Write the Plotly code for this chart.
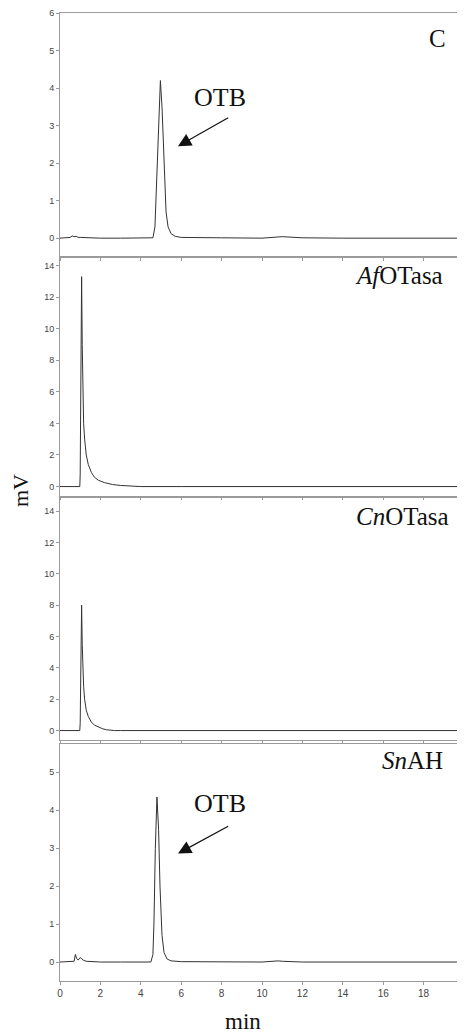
import plotly.graph_objects as go

# ---- data ----
ctrl_x = [0, 0.3, 0.5, 0.6, 0.7, 0.8, 0.9, 1.0, 1.5, 2, 3, 4, 4.6, 4.7, 4.8, 4.9, 4.97, 5.05, 5.15, 5.25, 5.35, 5.5, 5.7, 6, 8, 10, 11, 11.3, 12, 14, 16, 18, 20]
ctrl_y = [0, 0, 0.02, 0.06, 0.04, 0.05, 0.02, 0.02, 0.01, 0, 0, 0, 0.01, 0.3, 1.8, 3.6, 4.2, 3.5, 1.9, 0.7, 0.3, 0.12, 0.05, 0.02, 0.01, 0.0, 0.04, 0.03, 0.01, 0, 0, 0, 0]

af_x = [0, 0.5, 0.98, 1.0, 1.04, 1.07, 1.1, 1.13, 1.17, 1.22, 1.3, 1.4, 1.55, 1.7, 1.9, 2.2, 2.6, 3.0, 3.5, 4, 6, 8, 10, 12, 14, 16, 18, 20]
af_y = [0, 0, 0, 0.8, 7, 13.3, 9, 5.5, 4, 3, 2, 1.4, 0.9, 0.6, 0.4, 0.25, 0.13, 0.07, 0.02, 0, 0, 0, 0, 0, 0, 0, 0, 0]

cn_x = [0, 0.5, 0.98, 1.0, 1.04, 1.07, 1.1, 1.13, 1.17, 1.22, 1.3, 1.4, 1.55, 1.7, 1.9, 2.1, 2.3, 2.5, 2.7, 3, 6, 8, 10, 12, 14, 16, 18, 20]
cn_y = [0, 0, 0, 0.5, 4, 8.0, 5.5, 4, 2.8, 2, 1.3, 0.9, 0.55, 0.35, 0.22, 0.12, 0.05, 0.02, 0, 0, 0, 0, 0, 0, 0, 0, 0, 0]

sn_x = [0, 0.3, 0.5, 0.7, 0.76, 0.82, 0.9, 1.0, 1.05, 1.15, 1.3, 1.6, 2, 3, 4, 4.5, 4.6, 4.65, 4.72, 4.8, 4.88, 4.95, 5.05, 5.15, 5.3, 5.5, 6, 8, 10, 10.8, 11, 12, 14, 16, 18, 20]
sn_y = [0, 0.01, 0.01, 0.02, 0.2, 0.1, 0.05, 0.12, 0.1, 0.05, 0.02, 0.01, 0, 0, 0, 0, 0.2, 1.0, 3.0, 4.35, 3.5, 2.0, 0.7, 0.25, 0.08, 0.03, 0.01, 0, 0, 0.03, 0.02, 0, 0, 0, 0, 0]

panel_labels = ["C", "<i>Af</i>OTasa", "<i>Cn</i>OTasa", "<i>Sn</i>AH"]
x_ticks = [0, 2, 4, 6, 8, 10, 12, 14, 16, 18, 20]
y_ticks = [[0, 1, 2, 3, 4, 5, 6], [0, 2, 4, 6, 8, 10, 12, 14], [0, 2, 4, 6, 8, 10, 12, 14], [0, 1, 2, 3, 4, 5]]
y_ranges = [[-0.5, 6], [-0.6, 14.55], [-0.6, 14.85], [-0.5, 5.75]]
domains = [[0.748, 1.0], [0.501, 0.748], [0.249, 0.499], [0.0, 0.245]]

series = [(ctrl_x, ctrl_y), (af_x, af_y), (cn_x, cn_y), (sn_x, sn_y)]

serif = "Liberation Serif, DejaVu Serif, serif"
sans = "Liberation Sans, Arial, sans-serif"
axcol = "#9a9a9a"

# the page body has an 8px margin: figure sits at (8, 8) in the window
OFF = 8
W, H = 465 - OFF, 1033 - OFF
pl, pr, pt, pb = 60 - OFF, 1, 13 - OFF, 52
pw, ph = W - pl - pr, H - pt - pb


def px_to_paper(xp, yp):
    return (xp - OFF - pl) / pw, (H - pb - (yp - OFF)) / ph


fig = go.Figure()
layout = dict(
    width=W, height=H,
    margin=dict(l=pl, r=pr, t=pt, b=pb, autoexpand=False),
    paper_bgcolor="white", plot_bgcolor="white",
    showlegend=False,
)
for i, (xs, ys) in enumerate(series):
    n = "" if i == 0 else str(i + 1)
    fig.add_trace(go.Scatter(x=xs, y=ys, mode="lines",
                             line=dict(color="#333333", width=1),
                             xaxis="x" + n, yaxis="y" + n))
    layout["xaxis" + n] = dict(
        domain=[0, 1], anchor="y" + n, range=[0, 20],
        tickvals=x_ticks, showticklabels=(i == 3),
        ticks="outside", ticklen=3, tickcolor=axcol,
        showline=True, linecolor=axcol, linewidth=1, mirror=True,
        showgrid=False, zeroline=False, automargin=False,
        ticklabeloverflow="allow",
        tickfont=dict(family=sans, size=10, color="#444"),
    )
    layout["yaxis" + n] = dict(
        domain=domains[i], anchor="x" + n, range=y_ranges[i],
        tickvals=y_ticks[i],
        ticks="outside", ticklen=3, tickcolor=axcol,
        showline=True, linecolor=axcol, linewidth=1, mirror=True,
        showgrid=False, zeroline=False, automargin=False,
        ticklabeloverflow="allow",
        tickfont=dict(family=sans, size=9, color="#444"),
    )

fig.update_layout(**layout)

# panel labels
label_pos = [(19.2, 5.33), (19.06, 13.4), (19.36, 13.67), (19.06, 5.3)]
for i, lab in enumerate(panel_labels):
    n = "" if i == 0 else str(i + 1)
    fig.add_annotation(x=label_pos[i][0], y=label_pos[i][1], xref="x" + n, yref="y" + n,
                       text=lab, showarrow=False, xanchor="right", yanchor="middle",
                       font=dict(family=serif, size=25, color="#111"))

# OTB arrows
for n, txt_y, tip_y, tail_y in [("", 3.76, 2.45, 3.23), ("4", 4.18, 2.86, 3.6)]:
    fig.add_annotation(x=7.92, y=txt_y, xref="x" + n, yref="y" + n, text="OTB",
                       showarrow=False, xanchor="center", yanchor="middle",
                       font=dict(family=serif, size=26, color="#111"))
    fig.add_annotation(x=5.84, y=tip_y, ax=8.4, ay=tail_y, xref="x" + n, yref="y" + n,
                       axref="x" + n, ayref="y" + n, text="", showarrow=True,
                       arrowhead=2, arrowsize=2.2, arrowwidth=1.2, arrowcolor="#111")

# axis titles (page pixel positions converted to paper coords)
mx, my = px_to_paper(21, 491)
fig.add_annotation(x=mx, y=my, xref="paper", yref="paper",
                   text="mV", showarrow=False, textangle=-90,
                   xanchor="center", yanchor="middle",
                   font=dict(family=serif, size=22, color="#111"))
nx, ny = px_to_paper(243, 1021)
fig.add_annotation(x=nx, y=ny, xref="paper", yref="paper",
                   text="min", showarrow=False,
                   xanchor="center", yanchor="middle",
                   font=dict(family=serif, size=23, color="#111"))

fig.write_html("out.html")
